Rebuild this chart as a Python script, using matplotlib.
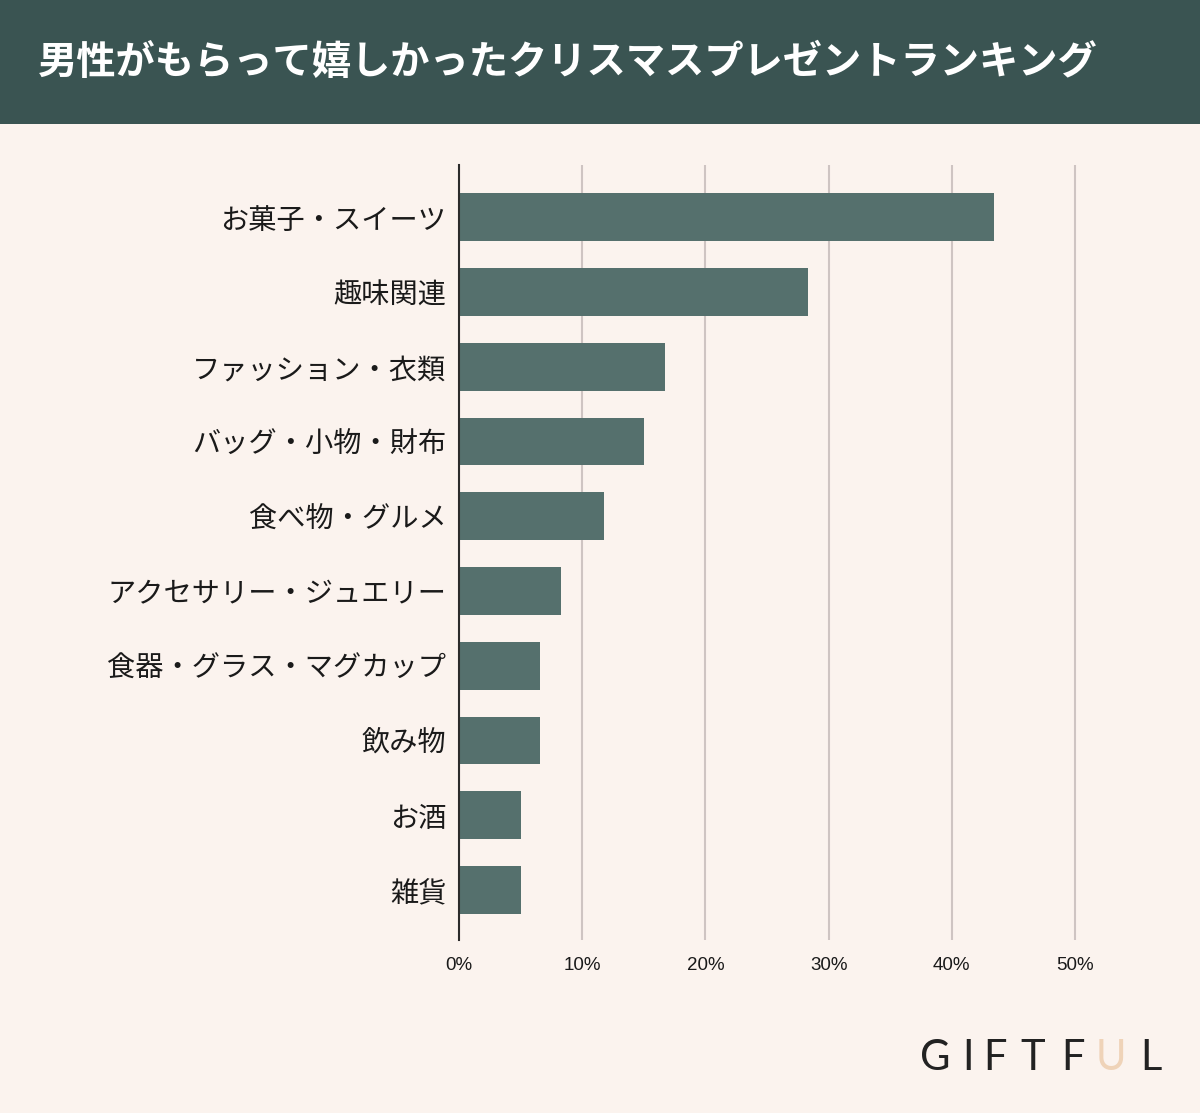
import matplotlib
import numpy as np
from matplotlib import pyplot as plt
from matplotlib.patches import Rectangle

plt.rcParams["font.family"] = ["Noto Sans CJK JP", "DejaVu Sans"]

title = "男性がもらって嬉しかったクリスマスプレゼントランキング"
categories = [
    "お菓子・スイーツ",
    "趣味関連",
    "ファッション・衣類",
    "バッグ・小物・財布",
    "食べ物・グルメ",
    "アクセサリー・ジュエリー",
    "食器・グラス・マグカップ",
    "飲み物",
    "お酒",
    "雑貨",
]
values = [43.4, 28.3, 16.7, 15.0, 11.8, 8.3, 6.6, 6.6, 5.0, 5.0]
xticks = [0, 10, 20, 30, 40, 50]

bg = "#FBF3EE"
header = "#3A5452"
bar_color = "#55706D"

fig = plt.figure(figsize=(12, 11.13), dpi=100, facecolor=bg)

# header band
fig.patches.append(Rectangle((0, 1 - 124 / 1113), 1, 124 / 1113,
                             transform=fig.transFigure, facecolor=header,
                             edgecolor="none", zorder=0))
fig.text(38 / 1200, 1 - 62 / 1113, title, color="white", fontsize=28.3,
         fontweight="bold", va="center", ha="left")

ax = fig.add_axes([459 / 1200, 1 - 940 / 1113, (1112 - 459) / 1200, (940 - 165) / 1113])
ax.set_facecolor(bg)

y = np.arange(len(categories))
ax.barh(y, values, height=0.64, color=bar_color, zorder=3)
ax.set_yticks(y)
ax.set_yticklabels(categories, fontsize=20.3, color="#1a1a1a")
ax.set_ylim(len(categories) - 0.33, -0.7)
ax.set_xlim(0, 53)
ax.set_xticks(xticks)
ax.set_xticklabels([f"{t}%" for t in xticks], fontsize=13.5,
                   family=["Liberation Sans", "DejaVu Sans"], color="#1a1a1a")
ax.tick_params(axis="y", length=0, pad=9)
ax.tick_params(axis="x", length=0, pad=12)
ax.grid(axis="x", color="#CEC4C2", linewidth=1.5, zorder=0)
for s in ["top", "right", "bottom"]:
    ax.spines[s].set_visible(False)
ax.spines["left"].set_color("#2b2b2b")
ax.spines["left"].set_linewidth(1.5)
ax.spines["left"].set_zorder(4)

# logo
letters = ["G", "I", "F", "T", "F", "U", "L"]
xs = [935, 968, 995, 1033, 1073, 1111, 1151]
for ch, xp in zip(letters, xs):
    fig.text(xp / 1200, 1 - 1058 / 1113, ch, fontsize=30,
             family=["Lato", "DejaVu Sans"], ha="center", va="center",
             color="#EFD3B8" if ch == "U" else "#222222")

fig.savefig("out.png", dpi=100, facecolor=bg)
